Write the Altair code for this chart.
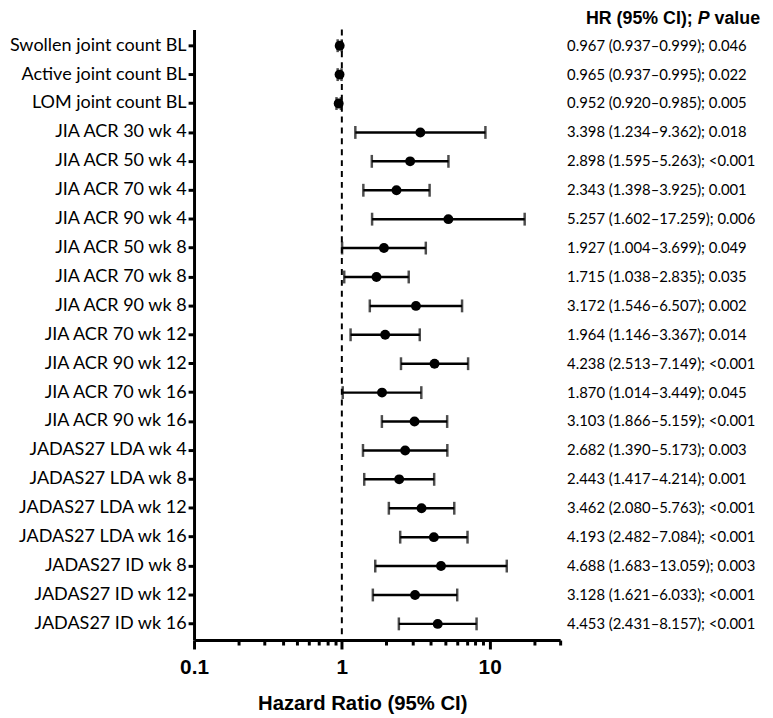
import altair as alt
import pandas as pd

labels = [
    "Swollen joint count BL", "Active joint count BL", "LOM joint count BL",
    "JIA ACR 30 wk 4", "JIA ACR 50 wk 4", "JIA ACR 70 wk 4", "JIA ACR 90 wk 4",
    "JIA ACR 50 wk 8", "JIA ACR 70 wk 8", "JIA ACR 90 wk 8",
    "JIA ACR 70 wk 12", "JIA ACR 90 wk 12", "JIA ACR 70 wk 16", "JIA ACR 90 wk 16",
    "JADAS27 LDA wk 4", "JADAS27 LDA wk 8", "JADAS27 LDA wk 12", "JADAS27 LDA wk 16",
    "JADAS27 ID wk 8", "JADAS27 ID wk 12", "JADAS27 ID wk 16",
]
hr = [0.967, 0.965, 0.952, 3.398, 2.898, 2.343, 5.257, 1.927, 1.715, 3.172,
      1.964, 4.238, 1.870, 3.103, 2.682, 2.443, 3.462, 4.193, 4.688, 3.128, 4.453]
lo = [0.937, 0.937, 0.920, 1.234, 1.595, 1.398, 1.602, 1.004, 1.038, 1.546,
      1.146, 2.513, 1.014, 1.866, 1.390, 1.417, 2.080, 2.482, 1.683, 1.621, 2.431]
hi = [0.999, 0.995, 0.985, 9.362, 5.263, 3.925, 17.259, 3.699, 2.835, 6.507,
      3.367, 7.149, 3.449, 5.159, 5.173, 4.214, 5.763, 7.084, 13.059, 6.033, 8.157]
pval = ["0.046", "0.022", "0.005", "0.018", "<0.001", "0.001", "0.006", "0.049",
        "0.035", "0.002", "0.014", "<0.001", "0.045", "<0.001", "0.003", "0.001",
        "<0.001", "<0.001", "0.003", "<0.001", "<0.001"]

x_ticks = [0.1, 0.2, 0.3, 0.4, 0.5, 0.6, 0.7, 0.8, 0.9,
           1, 2, 3, 4, 5, 6, 7, 8, 9, 10, 20, 30]
major_ticks = [0.1, 1, 10]
x_domain = [0.1, 30]
header_parts = ["HR (95% CI);", "P", "value"]
x_title = "Hazard Ratio (95% CI)"
ref_value = 1

df = pd.DataFrame({
    "label": labels, "hr": hr, "lo": lo, "hi": hi, "p": pval,
})
df["txt"] = [f"{h:.3f} ({l:.3f}\u2013{u:.3f}); {p}" for h, l, u, p in zip(hr, lo, hi, pval)]

major_test = " || ".join(f"datum.value == {v}" for v in major_ticks)

xscale = alt.Scale(type="log", domain=x_domain, nice=False)
yenc = alt.Y(
    "label:N", sort=labels,
    scale=alt.Scale(paddingInner=0, paddingOuter=0.06),
    axis=alt.Axis(
        title=None, labelFont="Lato", labelFontSize=18.2, labelColor="black",
        labelLimit=400, domainWidth=3, domainColor="black", tickWidth=3,
        tickSize=6, tickColor="black", labelPadding=2,
        minExtent=188, maxExtent=188,
    ),
)
xaxis = alt.Axis(
    values=x_ticks, title=x_title,
    labelExpr=f"({major_test}) ? format(datum.value, '~g') : ''",
    labelOverlap=False, labelFlush=False, labelBound=False,
    labelFont="Liberation Sans", labelFontSize=21,
    labelFontWeight="bold", labelColor="black", labelPadding=8,
    domainWidth=3, domainColor="black", tickWidth=3, tickColor="black",
    tickSize={"condition": {"test": major_test, "value": 9}, "value": 5},
    grid=False, titleFont="Liberation Sans", titleFontSize=20.5,
    titleFontWeight="bold", titleColor="black", titlePadding=16, titleX=170,
)

base = alt.Chart(df)

ref = alt.Chart(pd.DataFrame({"v": [ref_value]})).mark_rule(
    color="black", strokeWidth=2, strokeDash=[6, 5]
).encode(x=alt.X("v:Q", scale=xscale, axis=xaxis))

bars = base.mark_rule(color="black", strokeWidth=2.5).encode(
    x=alt.X("lo:Q", scale=xscale), x2="hi:Q", y=yenc
)
cap_lo = base.mark_tick(color="black", thickness=2.5, size=13).encode(
    x=alt.X("lo:Q", scale=xscale), y=yenc
)
cap_hi = base.mark_tick(color="black", thickness=2.5, size=13).encode(
    x=alt.X("hi:Q", scale=xscale), y=yenc
)
pts = base.mark_circle(color="black", opacity=1, size=100).encode(
    x=alt.X("hr:Q", scale=xscale), y=yenc
)
txt = base.mark_text(
    align="left", baseline="middle", font="Lato", fontSize=15, color="black"
).encode(x=alt.value(377), y=yenc, text="txt:N")

hdf = pd.DataFrame({"t": header_parts})
hstyle = dict(baseline="middle", font="Liberation Sans", fontSize=18,
              fontWeight="bold", color="black")
h1 = alt.Chart(hdf.iloc[[0]]).mark_text(align="right", **hstyle).encode(
    x=alt.value(504), y=alt.value(-11), text="t:N")
h2 = alt.Chart(hdf.iloc[[1]]).mark_text(align="center", fontStyle="italic", **hstyle).encode(
    x=alt.value(515), y=alt.value(-11), text="t:N")
h3 = alt.Chart(hdf.iloc[[2]]).mark_text(align="left", **hstyle).encode(
    x=alt.value(526), y=alt.value(-11), text="t:N")

chart = alt.layer(ref, bars, cap_lo, cap_hi, pts, txt, h1, h2, h3).properties(
    width=370, height=617,
    autosize=alt.AutoSizeParams(type="none"),
    padding={"left": 188, "top": 18, "right": 207, "bottom": 75},
    background="white",
).configure_view(stroke=None)

chart.save("out.html", embed_options={"renderer": "svg", "actions": False})
